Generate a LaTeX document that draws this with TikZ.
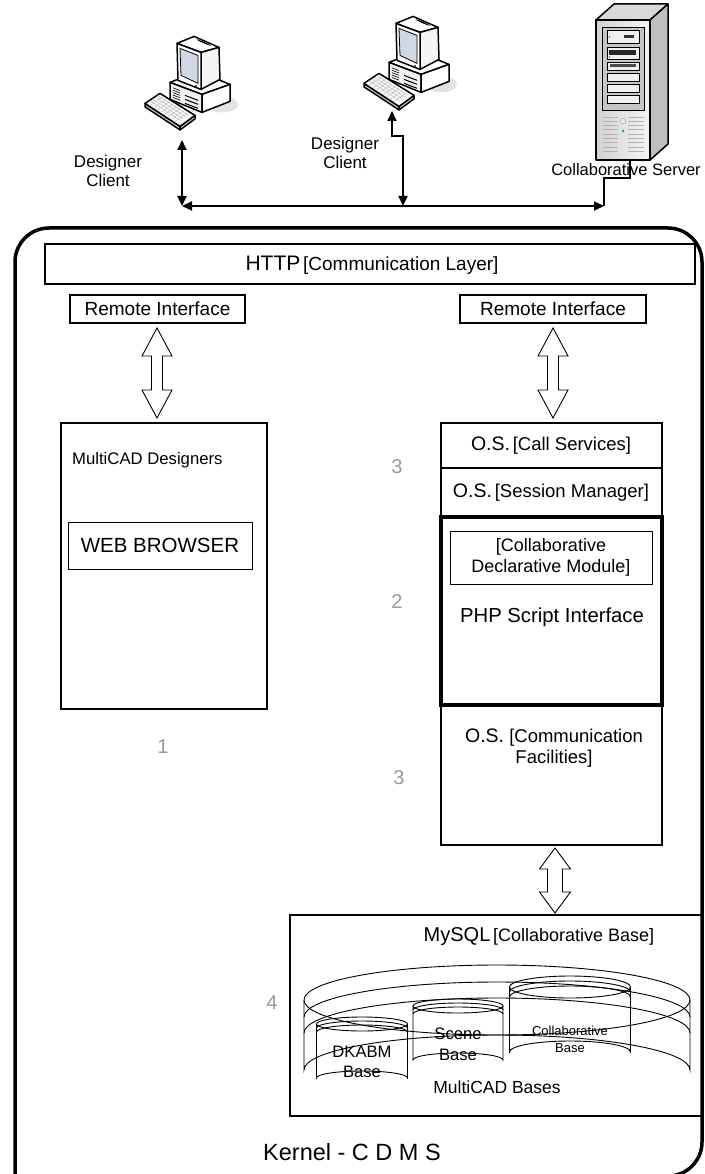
\documentclass[tikz,border=0pt]{standalone}
\usepackage{fontspec}
\setmainfont{Liberation Sans}
\usetikzlibrary{arrows.meta,calc}

% database cylinder: centre x, top y, bottom y, x radius, y radius, band offsets
\newcommand\dbcyl[7]{%
  \draw[cyl] ({#1-#4},#2) -- ({#1-#4},#3)
     arc[start angle=180,end angle=360,x radius=#4,y radius=#5] -- ({#1+#4},#2);
  \draw[cyl] (#1,#2) ellipse[x radius=#4,y radius=#5];
  \draw[cyl] ({#1-#4},{#2+#6}) arc[start angle=180,end angle=360,x radius=#4,y radius=#5];
  \draw[cyl] ({#1-#4},{#2+#7}) arc[start angle=180,end angle=360,x radius=#4,y radius=#5];
}
% hollow double-headed block arrow between two named points
\newcommand\dualarrow[5]{%
  \draw[line width=0.9pt,fill=white] (#1) -- ($(#1)+(#3,#4)$) -- ($(#1)+(#5,#4)$)
    -- ($(#2)+(#5,-#4)$) -- ($(#2)+(#3,-#4)$) -- (#2) -- ($(#2)+(-#3,-#4)$)
    -- ($(#2)+(-#5,-#4)$) -- ($(#1)+(-#5,#4)$) -- ($(#1)+(-#3,#4)$) -- cycle;
}

\tikzset{
  fr/.style={draw,line width=1.4pt,inner sep=0pt},
  thin box/.style={draw,line width=0.9pt,inner sep=0pt},
  lbl/.style={inner sep=0pt,align=center},
  num/.style={inner sep=0pt,text=black!40,font=\fontsize{20}{22}\selectfont},
  cyl/.style={line width=0.9pt},
  conn/.style={line width=1.8pt,{Triangle[length=10pt,width=9pt]}-{Triangle[length=10pt,width=9pt]}},
  pc/.style={line width=1.5pt,line join=round},
  pics/workstation/.style={code={
    % shadow
    \fill[gray!22] (232,109) ellipse[x radius=16,y radius=8];
    % system unit
    \draw[pc,fill=white] (180,87) -- (208,76) -- (240,89) -- (212,99) -- cycle;
    \draw[pc,fill=gray!12] (180,87) -- (212,99) -- (212,117) -- (180,104) -- cycle;
    \draw[pc,fill=white] (212,99) -- (240,89) -- (240,106) -- (212,117) -- cycle;
    \foreach \i in {0,...,4}
      \draw[line width=0.6pt] (183,{92.5+2.4*\i}) -- (190,{95.1+2.4*\i});
    \foreach \i in {0,1,2}
      \draw[line width=1pt] (195,{100+4*\i}) -- (208,{104.9+4*\i});
    % monitor casing
    \draw[pc,fill=white] (187,48) -- (204,41) -- (229,52) -- (211,57) -- cycle;
    \foreach \i in {0,...,4}
      \draw[line width=0.7pt] ({207+1.6*\i},{44.2+0.7*\i}) -- ({214+1.6*\i},{47.3+0.7*\i});
    \draw[pc,fill=gray!8] (211,57) -- (229,52) -- (230,84) -- (211,94) -- cycle;
    \draw[pc,fill=white] (187,48) -- (211,57) -- (211,94) -- (188,85) -- cycle;
    \draw[line width=0.8pt,fill={rgb,255:red,208;green,216;blue,230}]
      (190,53) -- (208,60) -- (208,88) -- (191,80) -- cycle;
    \fill (206,90.5) circle (0.9);
    % keyboard
    \draw[pc,fill=gray!35] (155,108) -- (190,131) -- (190,134.5) -- (155,111.5) -- cycle;
    \draw[pc,fill=gray!35] (190,131) -- (205,120) -- (205,123.5) -- (190,134.5) -- cycle;
    \draw[pc,fill=gray!5] (155,108) -- (170,98) -- (205,120) -- (190,131) -- cycle;
    \foreach \i in {1,...,4}
      \draw[gray!60,line width=0.4pt] ({157+2.6*\i},{107-1.8*\i}) -- ({188+2.6*\i},{127-1.8*\i});
    \foreach \j in {1,...,8}
      \draw[gray!60,line width=0.4pt] ({157+3.5*\j},{107.5+2.3*\j}) -- ({169+3.5*\j},{99.5+2.3*\j});
  }}
}

\begin{document}
\begin{tikzpicture}[x=1pt,y=-1pt]
\useasboundingbox (0,0) rectangle (704,1174);
\fill[white] (0,0) rectangle (704,1174);

% ---------------- network level ----------------
\begin{scope}[shift={(-10,-4.6)},scale=1.05]
  \pic at (0,0) {workstation};
\end{scope}
\begin{scope}[shift={(209,-24.6)},scale=1.05]
  \pic at (0,0) {workstation};
\end{scope}

% collaborative server tower
\draw[pc,fill=gray!30] (596,20) -- (614,4) -- (668,4) -- (650,20) -- cycle;
\draw[pc,fill=gray!50] (650,20) -- (668,4) -- (668,144) -- (650,160) -- cycle;
\shade[left color=gray!35,right color=gray!8] (596,20) rectangle (650,160);
\draw[pc] (596,20) rectangle (650,160);
\draw[line width=0.8pt,fill=gray!45] (602,27) rectangle (644,110);
\foreach \a/\b in {30/43,47/59,62/70,73/81,84/92,95/103}
  \draw[line width=0.7pt,fill=gray!12] (607,\a) rectangle (639,\b);
\fill[green!70!black] (609.5,37) circle (0.9);
\fill[black!80] (624,35) rectangle (634,38.5);
\fill[black!85] (609,50.5) rectangle (636,55.5);
\fill[green!70!black] (609.5,57) circle (0.8);
\fill[black!70] (610,64.5) rectangle (636,67.5);
\foreach \k in {0,...,8} {
  \draw[gray!60,line width=0.9pt] (603,{117+4.3*\k}) -- (618,{117+4.3*\k});
  \draw[gray!60,line width=0.9pt] (628,{117+4.3*\k}) -- (644,{117+4.3*\k});
}
\draw[gray!70,fill=gray!15,line width=0.5pt] (623,121) circle (2.8);
\fill[green!75!black] (623,131) circle (1.4);

% labels of the network level
\node[lbl,font=\fontsize{17}{19}\selectfont] (dc1) at (108,171) {Designer\\Client};
\node[lbl,font=\fontsize{17}{19}\selectfont] (dc2) at (345,153) {Designer\\Client};
\node[lbl,font=\fontsize{16.5}{18}\selectfont,anchor=base] (srvlbl) at (626,176) {Collaborative Server};

% network connectors
\coordinate (kb1) at (182,140);
\coordinate (kb2) at (392,111);
\coordinate (bus1) at (182,206);
\coordinate (bus2) at (403,206);
\coordinate (bus3) at (604,206);
\coordinate (srvfoot) at (630,160);
\draw[conn] (kb1) -- (bus1);
\draw[conn] (bus1) -- (bus3);
\draw[conn] (bus2) -- ++(0,-70) -| (kb2);
\draw[line width=1.8pt] (bus3) -- ++(0,-28) -| (srvfoot);

% ---------------- kernel frame ----------------
\draw[line width=3.5pt,rounded corners=34] (15,1200) -- (15,228) -- (702,228) -- (702,1176) -- (400,1176);

\node[fr,minimum width=650pt,minimum height=40pt] (http) at (370,264) {};
\node[lbl] (httptxt) at (372,265)
  {{\fontsize{21}{22}\selectfont HTTP} {\fontsize{19}{20}\selectfont [Communication Layer]}};

\node[fr,minimum width=175pt,minimum height=28pt,font=\fontsize{19}{20}\selectfont] (riL) at (157.5,309) {Remote Interface};
\node[fr,minimum width=186pt,minimum height=28pt,font=\fontsize{19}{20}\selectfont] (riR) at (553,309) {Remote Interface};

% designers column
\node[fr,minimum width=206pt,minimum height=286pt] (mcd) at (164,566) {};
\node[lbl,anchor=west,font=\fontsize{16.7}{18}\selectfont] (mcdtxt) at (72,460) {MultiCAD Designers};
\node[thin box,minimum width=184pt,minimum height=47pt,font=\fontsize{20.5}{22}\selectfont] (web) at (160,545.5) {WEB BROWSER};

% operating-system column
\node[fr,minimum width=221pt,minimum height=45pt] (call) at (551.5,445.5) {};
\node[lbl] (calltxt) at (551,446)
  {{\fontsize{19.5}{20}\selectfont O.S.} {\fontsize{18.5}{20}\selectfont [Call Services]}};
\node[fr,minimum width=221pt,minimum height=49pt] (sess) at (551.5,492.5) {};
\node[lbl] (sesstxt) at (551,493)
  {{\fontsize{19.5}{20}\selectfont O.S.} {\fontsize{18.5}{20}\selectfont [Session Manager]}};
\node[fr,minimum width=221pt,minimum height=140pt] (comm) at (551.5,775) {};
\node[lbl,font=\fontsize{18.5}{21}\selectfont] (commtxt) at (554,748)
  {{\fontsize{19.5}{21}\selectfont O.S.} [Communication\\Facilities]};
\node[draw,line width=4pt,inner sep=0pt,minimum width=221pt,minimum height=188pt] (php) at (551.5,611) {};
\node[thin box,minimum width=202pt,minimum height=53pt,align=center,font=\fontsize{18}{21}\selectfont] (cdm) at (551,557.5)
  {[Collaborative\\Declarative Module]};
\node[lbl,font=\fontsize{20.3}{22}\selectfont] (phptxt) at (552,617) {PHP Script Interface};

% layer numbers
\node[num] (n1) at (163,747) {1};
\node[num] (n3a) at (397,467) {3};
\node[num] (n2) at (397,602) {2};
\node[num] (n3b) at (399,778) {3};
\node[num] (n4) at (272,1003) {4};

% block arrows between layers
\coordinate (aLt) at (157,328);
\coordinate (aLb) at (157,418);
\coordinate (aRt) at (553,328);
\coordinate (aRb) at (553,418);
\coordinate (aDt) at (555,848);
\coordinate (aDb) at (555,913);
\dualarrow{aLt}{aLb}{15}{28}{5.5}
\dualarrow{aRt}{aRb}{15}{28}{5.5}
\dualarrow{aDt}{aDb}{15.5}{21}{7.5}

% database layer
\node[fr,minimum width=412pt,minimum height=201pt] (mysql) at (496,1015.5) {};
\node[lbl] (mysqltxt) at (539,937)
  {{\fontsize{20}{22}\selectfont MySQL} {\fontsize{18}{20}\selectfont [Collaborative Base]}};
\dbcyl{497}{1000}{1070}{193}{35}{17}{33}
\dbcyl{362}{1024}{1078}{45.5}{7}{4}{8}
\dbcyl{458}{1006}{1060}{45}{7}{4}{8}
\dbcyl{570}{987}{1052}{60.5}{11}{5}{10}
\node[lbl,font=\fontsize{16.6}{20}\selectfont] (dkabm) at (362,1062) {DKABM\\Base};
\node[lbl,font=\fontsize{16.6}{21}\selectfont] (scene) at (458,1044.5) {Scene\\Base};
\node[lbl,font=\fontsize{13}{16.5}\selectfont] (collab) at (570,1039.5) {Collaborative\\Base};
\node[lbl,font=\fontsize{17.5}{20}\selectfont] (bases) at (497,1087) {MultiCAD Bases};

\node[lbl,font=\fontsize{23.5}{26}\selectfont] (kernel) at (352,1152) {Kernel - C D M S};
\end{tikzpicture}
\end{document}
